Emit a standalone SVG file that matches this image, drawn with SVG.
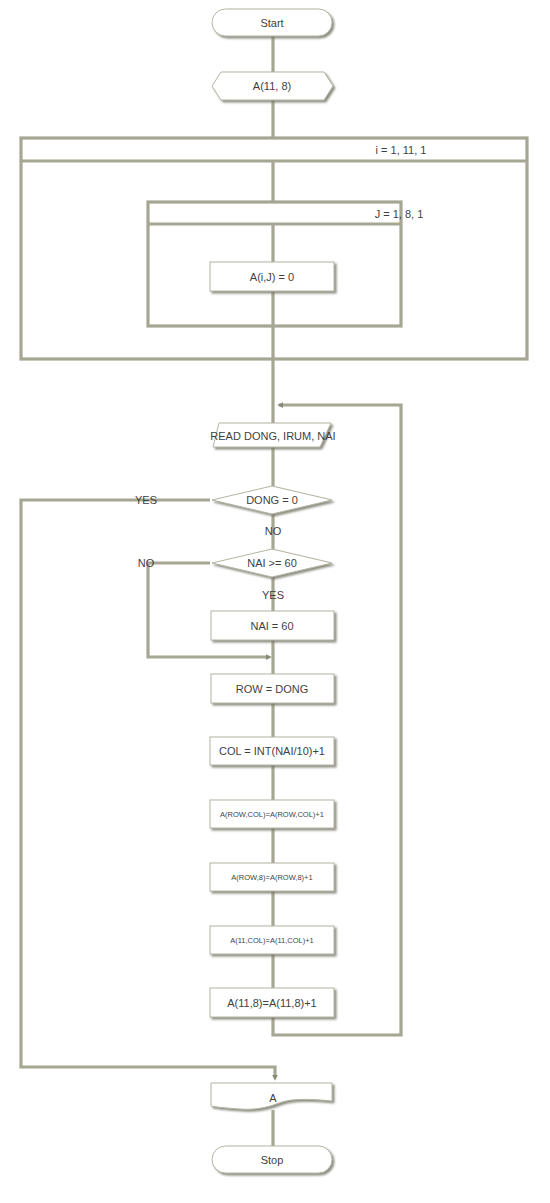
<svg xmlns="http://www.w3.org/2000/svg" width="550" height="1203" viewBox="0 0 550 1203">
<defs>
<filter id="sh" x="-10%" y="-20%" width="125%" height="150%">
<feDropShadow dx="2" dy="2" stdDeviation="0.8" flood-color="#6f6f60" flood-opacity="0.8"/>
</filter>
<marker id="ah" viewBox="0 0 8 8" refX="7" refY="4" markerWidth="6" markerHeight="6" markerUnits="userSpaceOnUse" orient="auto">
<path d="M0,0 L8,4 L0,8 Z" fill="#8a8a78"/>
</marker>
<style>
.ln{fill:none;stroke:#a6a694;stroke-width:3.2;stroke-linejoin:miter}
.ar{fill:none;stroke:none}
.bx{fill:#fff;stroke:#b4b4a4;stroke-width:1;filter:url(#sh)}
.t{font-family:"Liberation Sans",Arial,sans-serif;font-size:11px;fill:#3f3f3f;text-anchor:middle;dominant-baseline:central}
.s{font-size:7.5px}
.lb{font-family:"Liberation Sans",Arial,sans-serif;font-size:11px;fill:#3f3f3f;text-anchor:middle;dominant-baseline:central}
</style>
</defs>
<rect width="550" height="1203" fill="#fff"/>
<g id="connectors">
<path class="ln" d="M273,36 V72 M273,100 V138 M273,161 V201 M273,224 V262 M273,292 V423 M273,447 V486 M273,514 V550 M273,577 V611 M273,640 V674 M273,703 V737 M273,765 V800 M273,828 V863 M273,891 V926 M273,954 V988 M273,1017 V1035 H401 V405 H279 M210,500 H21 V1067 H275 V1077 M210,563 H148 V657 H268 M273,1110 V1146"/>
<path class="ar" d="M401,405 H278" marker-end="url(#ah)"/>
<path class="ar" d="M21,1067 H275 V1080" marker-end="url(#ah)"/>
<path class="ar" d="M148,657 H271" marker-end="url(#ah)"/>
</g>
<g id="loop_i">
<rect x="21" y="138" width="506" height="221" class="ln"/>
<path class="ln" d="M21,161 H527"/>
<text class="t" x="401" y="150">i = 1, 11, 1</text>
</g>
<g id="loop_j">
<rect x="148" y="202" width="253" height="124" class="ln"/>
<path class="ln" d="M148,224 H401"/>
<text class="t" x="399" y="214">J = 1, 8, 1</text>
</g>
<g id="start">
<rect class="bx" x="212" y="9" width="120" height="27" rx="13.5"/>
<text class="t" x="272" y="23">Start</text>
</g>
<g id="dim">
<polygon class="bx" points="212,86 221,72 324,72 333,86 324,100 221,100"/>
<text class="t" x="272" y="86">A(11, 8)</text>
</g>
<g id="init">
<rect class="bx" x="210" y="262" width="124" height="29"/>
<text class="t" x="272" y="277">A(i,J) = 0</text>
</g>
<g id="read">
<polygon class="bx" points="219,423 331,423 320,447 213,447"/>
<text class="t" x="273" y="436">READ DONG, IRUM, NAI</text>
</g>
<g id="dec1">
<polygon class="bx" points="212,500 272,486 332,500 272,514"/>
<text class="t" x="272" y="500">DONG = 0</text>
</g>
<g id="dec2">
<polygon class="bx" points="212,563 272,549 332,563 272,577"/>
<text class="t" x="272" y="563">NAI &gt;= 60</text>
</g>
<g id="labels">
<text class="lb" x="146" y="500">YES</text>
<text class="lb" x="273" y="531">NO</text>
<text class="lb" x="146" y="563">NO</text>
<text class="lb" x="273" y="595">YES</text>
</g>
<g id="nai60">
<rect class="bx" x="211" y="611" width="123" height="29"/>
<text class="t" x="272" y="626">NAI = 60</text>
</g>
<g id="row">
<rect class="bx" x="211" y="674" width="123" height="29"/>
<text class="t" x="272" y="689">ROW = DONG</text>
</g>
<g id="col">
<rect class="bx" x="210" y="737" width="124" height="28"/>
<text class="t" x="272" y="751">COL = INT(NAI/10)+1</text>
</g>
<g id="inc1">
<rect class="bx" x="210" y="800" width="124" height="28"/>
<text class="t s" x="272" y="814">A(ROW,COL)=A(ROW,COL)+1</text>
</g>
<g id="inc2">
<rect class="bx" x="210" y="863" width="124" height="28"/>
<text class="t s" x="272" y="877">A(ROW,8)=A(ROW,8)+1</text>
</g>
<g id="inc3">
<rect class="bx" x="210" y="926" width="124" height="28"/>
<text class="t s" x="272" y="940">A(11,COL)=A(11,COL)+1</text>
</g>
<g id="inc4">
<rect class="bx" x="210" y="988" width="124" height="29"/>
<text class="t" x="272" y="1003">A(11,8)=A(11,8)+1</text>
</g>
<g id="out">
<path class="bx" d="M211,1083 H332 V1101 C312,1099 292,1098 279,1103 C266,1108 255,1110 240,1109 C226,1108 216,1107 211,1106 Z"/>
<text class="t" x="273" y="1098">A</text>
</g>
<g id="stop">
<rect class="bx" x="212" y="1146" width="120" height="27" rx="13.5"/>
<text class="t" x="272" y="1160">Stop</text>
</g>
</svg>
